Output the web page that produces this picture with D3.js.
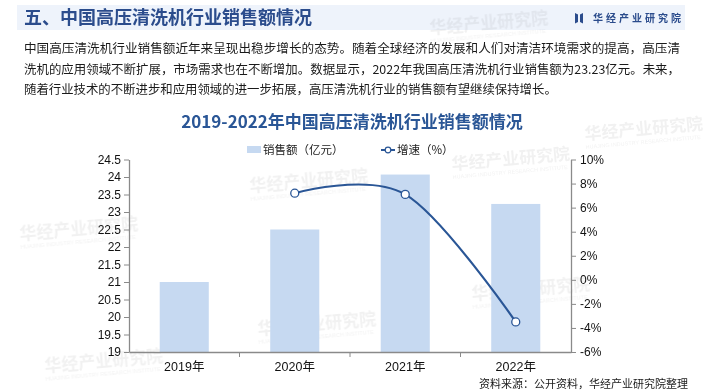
<!DOCTYPE html>
<html><head><meta charset="utf-8">
<script src="https://cdn.jsdelivr.net/npm/d3@7"></script>
<style>
html,body{margin:0;padding:0;background:#fff;}
svg{display:block;}
</style></head>
<body>
<svg id="c" width="704" height="392"></svg>
<script>
const years = ["2019年","2020年","2021年","2022年"];
const sales = [21.0, 22.5, 24.07, 23.23];
const growthVals = [null, 7.2, 7.1, -3.5];
const leftTicks = [19,19.5,20,20.5,21,21.5,22,22.5,23,23.5,24,24.5];
const rightTicks = [-6,-4,-2,0,2,4,6,8,10];
const paragraph = [
 "中国高压清洗机行业销售额近年来呈现出稳步增长的态势。随着全球经济的发展和人们对清洁环境需求的提高，高压清",
 "洗机的应用领域不断扩展，市场需求也在不断增加。数据显示，2022年我国高压清洗机行业销售额为23.23亿元。未来，",
 "随着行业技术的不断进步和应用领域的进一步拓展，高压清洗机行业的销售额有望继续保持增长。"
];
const watermarks = [[20,240],[250,192],[452,170],[472,300],[258,335],[45,372],[585,140],[430,34]];

const svg = d3.select("#c");
const CJK = "'Noto Sans CJK SC','Noto Sans',sans-serif";
const NUM = "'Liberation Sans',Arial,'Noto Sans CJK SC',sans-serif";

// header band
svg.append("rect").attr("x",17).attr("y",5).attr("width",668).attr("height",25).attr("fill","#eef3fb");

// watermarks
const wm = svg.append("g").attr("opacity",0.08);
watermarks.forEach(([x,y])=>{
  const g = wm.append("g").attr("transform",`translate(${x},${y}) rotate(-5)`);
  g.append("text").attr("font-family",CJK).attr("font-weight",700).attr("font-size",17)
   .attr("fill","#555").text("华经产业研究院");
  g.append("text").attr("y",9).attr("font-family",NUM).attr("font-size",5.5)
   .attr("fill","#555").text("HUAJING INDUSTRY RESEARCH INSTITUTE");
});

svg.append("text").attr("x",24).attr("y",24).attr("font-family",CJK).attr("font-weight",700)
  .attr("font-size",18).attr("fill","#2b4c8c").text("五、中国高压清洗机行业销售额情况");
// logo
const lg = svg.append("g").attr("fill","#2b4c8c");
lg.append("path").attr("d","M575,13 L578,14.5 L578,22 L575,23.5 Z");
lg.append("path").attr("d","M583,13 L580,14.5 L580,22 L583,23.5 Z");
svg.append("text").attr("x",593).attr("y",22).attr("font-family",CJK).attr("font-weight",700)
  .attr("font-size",10).attr("letter-spacing",3).attr("fill","#2b4c8c").text("华经产业研究院");

// paragraph
const lineLens = [656, 656, 0];
paragraph.forEach((t,i)=>{
  const tx = svg.append("text").attr("x",24).attr("y",53+i*20.5).attr("font-family",CJK)
    .attr("font-size",12.4).attr("fill","#1a1a1a").text(t);
  if(lineLens[i]) tx.attr("textLength",lineLens[i]).attr("lengthAdjust","spacingAndGlyphs");
});

// chart title
svg.append("text").attr("x",352).attr("y",128).attr("text-anchor","middle").attr("font-family",CJK)
  .attr("font-weight",700).attr("font-size",17).attr("fill","#2a5696")
  .text("2019-2022年中国高压清洗机行业销售额情况");

// scales
const x = d3.scaleBand().domain(years).range([129,571]).paddingInner(0.556).paddingOuter(0.278);
const xc = d3.scaleBand().domain(years).range([129,571]);
const yL = d3.scaleLinear().domain([19,24.5]).range([352,159.5]);
const yR = d3.scaleLinear().domain([-6,10]).range([352,159.5]);

// bars
svg.append("g").selectAll("rect").data(years).join("rect")
  .attr("x",d=>x(d)).attr("width",x.bandwidth())
  .attr("y",(d,i)=>yL(sales[i])).attr("height",(d,i)=>yL(19)-yL(sales[i]))
  .attr("fill","#c6d9f1");

// axes
const axisColor = "#8a8a8a";
function styleAxis(g){
  g.selectAll(".domain").attr("stroke",axisColor).attr("stroke-width",1.3);
  g.selectAll(".tick line").attr("stroke",axisColor);
  g.selectAll(".tick text").attr("font-family",NUM).attr("font-size",12).attr("fill","#111");
}
const gl = svg.append("g").attr("transform","translate(129,0)")
  .call(d3.axisLeft(yL).tickValues(leftTicks).tickSize(5).tickSizeOuter(0).tickPadding(3).tickFormat(d3.format("")));
styleAxis(gl);
const gr = svg.append("g").attr("transform","translate(571,0)")
  .call(d3.axisRight(yR).tickValues(rightTicks).tickSize(5).tickSizeOuter(0).tickPadding(4).tickFormat(d=>d+"%"));
styleAxis(gr);
const gb = svg.append("g").attr("transform","translate(0,352)")
  .call(d3.axisBottom(xc).tickSize(0).tickPadding(10));
styleAxis(gb);
gb.selectAll(".tick text").attr("font-size",12.5);
// category boundary ticks
svg.append("g").selectAll("line").data(years.slice(1)).join("line")
  .attr("x1",d=>xc(d)).attr("x2",d=>xc(d)).attr("y1",352).attr("y2",357)
  .attr("stroke",axisColor);

// growth line
const pts = years.map((d,i)=>[xc(d)+xc.bandwidth()/2, growthVals[i]]).filter(p=>p[1]!==null);
const line = d3.line().x(p=>p[0]).y(p=>yR(p[1])).curve(d3.curveCardinal.tension(0));
svg.append("path").attr("d",line(pts)).attr("fill","none").attr("stroke","#2a5696").attr("stroke-width",2.2);
svg.append("g").selectAll("circle").data(pts).join("circle")
  .attr("cx",p=>p[0]).attr("cy",p=>yR(p[1])).attr("r",4)
  .attr("fill","#fff").attr("stroke","#2a5696").attr("stroke-width",1.3);

// legend
svg.append("rect").attr("x",247).attr("y",146).attr("width",14).attr("height",7).attr("fill","#c6d9f1");
svg.append("text").attr("x",263).attr("y",154).attr("font-family",CJK).attr("font-size",11.5)
  .attr("fill","#1a1a1a").text("销售额（亿元）");
svg.append("line").attr("x1",381).attr("x2",395).attr("y1",150).attr("y2",150)
  .attr("stroke","#2a5696").attr("stroke-width",2);
svg.append("circle").attr("cx",388).attr("cy",150).attr("r",2.8).attr("fill","#fff")
  .attr("stroke","#2a5696").attr("stroke-width",1.2);
svg.append("text").attr("x",397).attr("y",154).attr("font-family",CJK).attr("font-size",11.5)
  .attr("fill","#1a1a1a").text("增速（%）");

// source
svg.append("text").attr("x",688).attr("y",388).attr("text-anchor","end").attr("font-family",CJK)
  .attr("font-size",11).attr("fill","#1a1a1a").text("资料来源：公开资料，华经产业研究院整理");
</script>
</body></html>
